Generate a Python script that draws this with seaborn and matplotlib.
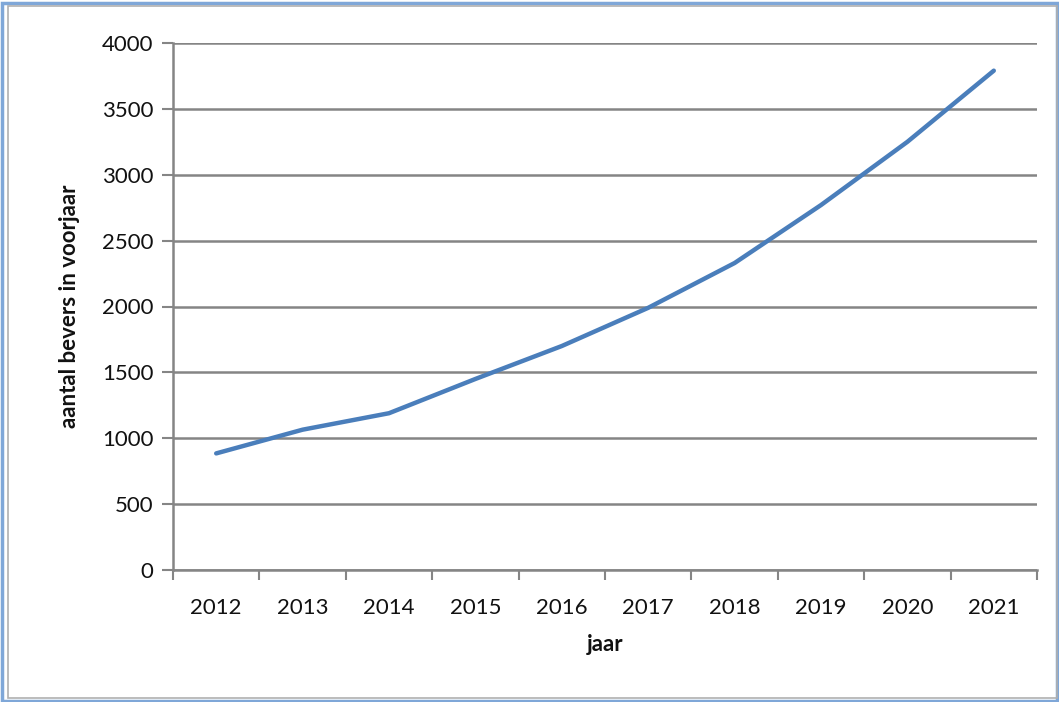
import matplotlib
matplotlib.use('Agg')
import matplotlib.pyplot as plt
from matplotlib.patches import Rectangle
from matplotlib.ticker import FixedLocator
import seaborn as sns
import pandas as pd

# Data
years = ['2012', '2013', '2014', '2015', '2016', '2017', '2018', '2019', '2020', '2021']
bevers = [885, 1065, 1190, 1450, 1700, 1990, 2330, 2770, 3250, 3790]

sns.set_style('white')
plt.rcParams['font.family'] = ['Lato', 'DejaVu Sans']

df = pd.DataFrame({'jaar': years, 'bevers': bevers})

fig = plt.figure(figsize=(10.59, 7.02), dpi=100)
ax = fig.add_axes([173 / 1059, 1 - 570 / 702, (1037 - 173) / 1059, (570 - 43) / 702])

sns.lineplot(data=df, x='jaar', y='bevers', ax=ax, color='#4A7EBB', linewidth=3.2)

ax.set_ylim(0, 4000)
ax.set_xlim(-0.5, len(years) - 0.5)
ax.set_yticks(range(0, 4001, 500))
ax.grid(axis='y', color='#858585', linewidth=1.8)
ax.set_axisbelow(True)

# category labels centred, tick marks between categories
ax.set_xticks(range(len(years)))
ax.set_xticklabels(years)
ax.xaxis.set_minor_locator(FixedLocator([i - 0.5 for i in range(len(years) + 1)]))
ax.tick_params(axis='x', which='major', bottom=False, length=0, pad=20, labelsize=16,
               colors='#111111')
ax.tick_params(axis='x', which='minor', bottom=True, length=7, width=1.5, color='#858585',
               direction='out')
ax.tick_params(axis='y', left=True, length=8, width=1.5, color='#858585', direction='out',
               labelsize=16, labelcolor='#111111', pad=6)

for side in ['top', 'right']:
    ax.spines[side].set_visible(False)
for side in ['left', 'bottom']:
    ax.spines[side].set_color('#858585')
    ax.spines[side].set_linewidth(1.8)

ax.set_xlabel('jaar', fontsize=16, fontweight='bold', labelpad=12, color='#111111')
ax.set_ylabel('aantal bevers in voorjaar', fontsize=16, fontweight='bold', labelpad=16,
              color='#111111')

# chart frame
fig.patches.append(Rectangle((0.002, 0.002), 0.996, 0.994, transform=fig.transFigure,
                             fill=False, edgecolor='#7FA7D8', linewidth=2.5))
fig.patches.append(Rectangle((0.008, 0.006), 0.99, 0.985, transform=fig.transFigure,
                             fill=False, edgecolor='#b0b0b0', linewidth=1.2))

fig.savefig('out.png', dpi=100)
